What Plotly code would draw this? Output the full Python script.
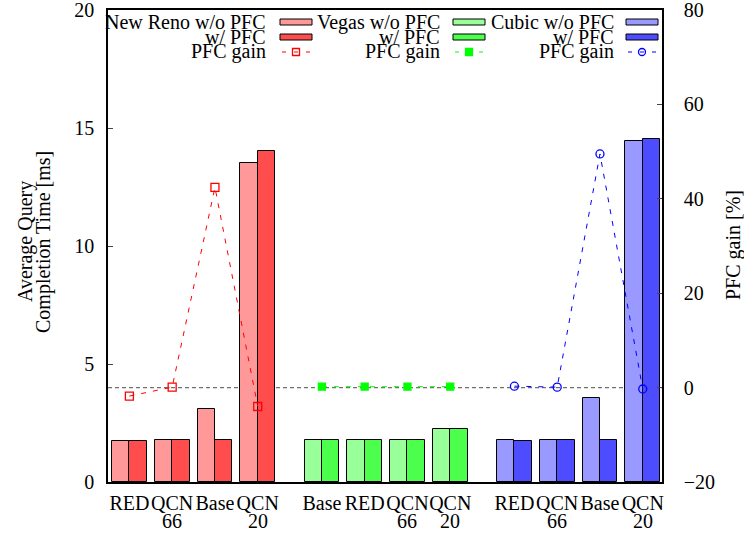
import plotly.graph_objects as go

# Average query completion time [ms], per TCP variant and queue scheme
reno_labels = ["RED", "QCN\n66", "Base", "QCN\n20"]
vegas_labels = ["Base", "RED", "QCN\n66", "QCN\n20"]
cubic_labels = ["RED", "QCN\n66", "Base", "QCN\n20"]

reno_wo_pfc = [1.72, 1.80, 3.11, 13.50]
reno_w_pfc = [1.75, 1.80, 1.79, 14.04]
vegas_wo_pfc = [1.77, 1.79, 1.80, 2.26]
vegas_w_pfc = [1.77, 1.79, 1.80, 2.24]
cubic_wo_pfc = [1.76, 1.80, 3.55, 14.46]
cubic_w_pfc = [1.74, 1.79, 1.79, 14.52]

# PFC gain [%]
reno_gain = [-1.8, 0.1, 42.4, -4.0]
vegas_gain = [0.2, 0.2, 0.2, 0.2]
cubic_gain = [0.3, 0.1, 49.5, -0.3]

FONT = "Liberation Serif"
FS = 20
W, H = 744, 535
L, R, T, B = 108, 82, 10, 53
PW, PH = W - L - R, H - T - B

BAR_W = 0.405
GROUP_STEP = 4.5

groups = [
    dict(labels=reno_labels, wo=reno_wo_pfc, w=reno_w_pfc, gain=reno_gain,
         c_wo="#ff9999", c_w="#ff4d4d", c_line="#ff0000",
         sym="square-open", msize=8, name="New Reno"),
    dict(labels=vegas_labels, wo=vegas_wo_pfc, w=vegas_w_pfc, gain=vegas_gain,
         c_wo="#99ff99", c_w="#4dff4d", c_line="#00ff00",
         sym="square", msize=7, name="Vegas"),
    dict(labels=cubic_labels, wo=cubic_wo_pfc, w=cubic_w_pfc, gain=cubic_gain,
         c_wo="#9999ff", c_w="#4d4dff", c_line="#0000ff",
         sym="circle-open", msize=8, name="Cubic"),
]


def px(x):
    return (x - L) / PW


def py(y):
    return (H - B - y) / PH


def text_ann(x, y, text, xref="paper", xanchor="center", angle=0):
    return dict(x=x, y=y, xref=xref, yref="paper", text=text, showarrow=False,
                xanchor=xanchor, yanchor="middle", textangle=angle, borderpad=0,
                font=dict(family=FONT, size=FS, color="black"))


fig = go.Figure()
tickvals, ticktext = [], []
annotations = []
for g, grp in enumerate(groups):
    xs = [g * GROUP_STEP + i for i in range(len(grp["labels"]))]
    for x, lab in zip(xs, grp["labels"]):
        parts = lab.split("\n")
        tickvals.append(x)
        ticktext.append(parts[0])
        # second label line sits tighter than plotly's default line height
        if len(parts) > 1:
            annotations.append(text_ann(x, py(521), parts[1], xref="x"))
    fig.add_trace(go.Bar(x=xs, y=grp["wo"], width=BAR_W, offset=-BAR_W,
                         marker=dict(color=grp["c_wo"], line=dict(color="black", width=1)),
                         showlegend=False, name=grp["name"] + " w/o PFC"))
    fig.add_trace(go.Bar(x=xs, y=grp["w"], width=BAR_W, offset=0,
                         marker=dict(color=grp["c_w"], line=dict(color="black", width=1)),
                         showlegend=False, name=grp["name"] + " w/ PFC"))
    fig.add_trace(go.Scatter(x=xs, y=grp["gain"], yaxis="y2", mode="lines+markers",
                             line=dict(color=grp["c_line"], width=1, dash="5px,7px"),
                             marker=dict(symbol=grp["sym"], size=grp["msize"],
                                         color=grp["c_line"],
                                         line=dict(color=grp["c_line"], width=1.3)),
                             showlegend=False, name=grp["name"] + " PFC gain"))

shapes = [
    # zero-gain reference line
    dict(type="line", xref="paper", yref="y2", x0=0, x1=1, y0=0, y1=0,
         line=dict(color="#707070", width=1.2, dash="4px,3px"), layer="below"),
]

# hand-built legend: three columns, right-aligned text with sample to the right
legend_cols = [(267, 280), (441, 453), (615, 626)]
rows = [22, 37, 52]
SAMPLE_W = 32
for (text_end, s0), grp in zip(legend_cols, groups):
    texts = [grp["name"] + " w/o PFC", "w/ PFC", "PFC gain"]
    for r, t in zip(rows, texts):
        annotations.append(text_ann(px(text_end), py(r), t, xanchor="right"))
    for r, col in zip(rows[:2], [grp["c_wo"], grp["c_w"]]):
        shapes.append(dict(type="rect", xref="paper", yref="paper",
                           x0=px(s0), x1=px(s0 + SAMPLE_W), y0=py(r - 3), y1=py(r + 3),
                           fillcolor=col, line=dict(color="black", width=1)))
    shapes.append(dict(type="line", xref="paper", yref="paper",
                       x0=px(s0 + 2), x1=px(s0 + SAMPLE_W - 2), y0=py(rows[2]), y1=py(rows[2]),
                       line=dict(color=grp["c_line"], width=1, dash="4px,8px")))
    cx, cy, hs = s0 + SAMPLE_W / 2, rows[2], 3.5
    filled = grp["sym"] == "square"
    shapes.append(dict(type="circle" if grp["sym"].startswith("circle") else "rect",
                       xref="paper", yref="paper",
                       x0=px(cx - hs), x1=px(cx + hs), y0=py(cy - hs), y1=py(cy + hs),
                       fillcolor=grp["c_line"] if filled else "rgba(0,0,0,0)",
                       line=dict(color=grp["c_line"], width=1.3)))

# axis titles
annotations.append(text_ann(px(25), py(242), "Average Query", angle=-90))
annotations.append(text_ann(px(43), py(242), "Completion Time [ms]", angle=-90))
annotations.append(text_ann(px(733), py(245), "PFC gain [%]", angle=-90))

fig.update_layout(
    width=W, height=H,
    margin=dict(l=L, r=R, t=T, b=B, pad=0, autoexpand=False),
    paper_bgcolor="white", plot_bgcolor="white",
    barmode="overlay", bargap=0,
    font=dict(family=FONT, size=FS, color="black"),
    xaxis=dict(range=[-0.5, 12.45], tickvals=tickvals, ticktext=ticktext,
               tickangle=0, ticklabeloverflow="allow",
               ticks="", showgrid=False, zeroline=False, showline=True,
               linecolor="black", linewidth=1.5, mirror=True, automargin=False,
               tickfont=dict(family=FONT, size=FS), ticklabelstandoff=2),
    yaxis=dict(range=[0, 20], dtick=5, ticks="inside", ticklen=5, tickwidth=1,
               ticklabeloverflow="allow",
               showgrid=False, zeroline=False, showline=True, linecolor="black",
               linewidth=1.5, automargin=False,
               tickfont=dict(family=FONT, size=FS), ticklabelstandoff=8),
    yaxis2=dict(range=[-20, 80], dtick=20, ticks="inside", ticklen=5, tickwidth=1,
                ticklabeloverflow="allow",
                overlaying="y", side="right", showgrid=False, zeroline=False,
                showline=True, linecolor="black", linewidth=1.5, automargin=False,
                tickfont=dict(family=FONT, size=FS), ticklabelstandoff=16),
    shapes=shapes,
    annotations=annotations,
    showlegend=False,
)

fig.write_html("out.html")
